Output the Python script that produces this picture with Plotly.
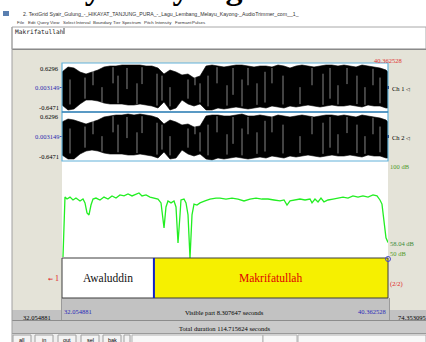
import plotly.graph_objects as go

W, H = 426, 342

# Time window shown in the editor (seconds)
t_start = 32.054881
t_end = 40.362528

# Waveform envelope, sampled along the visible window
wave_t = [32.055, 32.208, 32.361, 32.514, 32.667, 32.819, 32.972, 33.125, 33.278, 33.431,
          33.584, 33.737, 33.890, 34.043, 34.196, 34.348, 34.501, 34.654, 34.807, 34.960,
          35.113, 35.266, 35.419, 35.572, 35.725, 35.878, 36.030, 36.183, 36.336, 36.489,
          36.642, 36.795, 36.948, 37.101, 37.254, 37.406, 37.559, 37.712, 37.865, 38.018,
          38.171, 38.324, 38.477, 38.630, 38.783, 38.935, 39.088, 39.241, 39.394, 39.547,
          39.700, 39.853, 40.006, 40.159, 40.312, 40.362]
ch1_top = [0.395, 0.525, 0.499, 0.395, 0.343, 0.395, 0.447, 0.525, 0.551, 0.551,
           0.577, 0.577, 0.577, 0.577, 0.551, 0.551, 0.499, 0.343, 0.447, 0.395,
           0.317, 0.343, 0.239, 0.291, 0.551, 0.577, 0.551, 0.525, 0.551, 0.577,
           0.577, 0.551, 0.525, 0.551, 0.551, 0.525, 0.577, 0.551, 0.499, 0.551,
           0.577, 0.551, 0.525, 0.551, 0.577, 0.577, 0.551, 0.577, 0.551, 0.525,
           0.577, 0.551, 0.525, 0.499, 0.447, 0.395]
ch1_bottom = [-0.465, -0.595, -0.569, -0.439, -0.335, -0.335, -0.361, -0.413, -0.439, -0.439,
              -0.439, -0.465, -0.465, -0.439, -0.465, -0.491, -0.543, -0.387, -0.595, -0.543,
              -0.335, -0.439, -0.491, -0.439, -0.595, -0.595, -0.543, -0.569, -0.543, -0.517,
              -0.543, -0.569, -0.543, -0.517, -0.543, -0.491, -0.517, -0.543, -0.491, -0.517,
              -0.491, -0.465, -0.491, -0.517, -0.491, -0.465, -0.491, -0.491, -0.465, -0.491,
              -0.517, -0.465, -0.491, -0.491, -0.543, -0.543]
ch2_top = [0.370, 0.447, 0.421, 0.369, 0.317, 0.369, 0.421, 0.499, 0.525, 0.551,
           0.551, 0.577, 0.551, 0.577, 0.551, 0.525, 0.473, 0.317, 0.421, 0.369,
           0.291, 0.317, 0.239, 0.265, 0.525, 0.551, 0.551, 0.525, 0.525, 0.551,
           0.577, 0.525, 0.525, 0.551, 0.525, 0.499, 0.551, 0.525, 0.499, 0.525,
           0.551, 0.525, 0.499, 0.525, 0.551, 0.551, 0.525, 0.551, 0.525, 0.499,
           0.551, 0.525, 0.499, 0.473, 0.421, 0.369]
ch2_bottom = [-0.491, -0.595, -0.595, -0.465, -0.387, -0.361, -0.387, -0.439, -0.465, -0.465,
              -0.465, -0.491, -0.491, -0.465, -0.491, -0.517, -0.569, -0.413, -0.595, -0.569,
              -0.361, -0.465, -0.517, -0.465, -0.595, -0.621, -0.569, -0.595, -0.569, -0.543,
              -0.569, -0.595, -0.569, -0.543, -0.569, -0.517, -0.543, -0.569, -0.517, -0.543,
              -0.517, -0.491, -0.517, -0.543, -0.517, -0.491, -0.517, -0.517, -0.491, -0.517,
              -0.543, -0.491, -0.517, -0.517, -0.569, -0.569]

# Light streaks inside the dense waveform
streak_t = [32.259, 32.641, 32.845, 33.074, 33.355, 33.482, 33.711, 33.966, 34.094, 34.476,
            34.603, 34.807, 35.266, 35.444, 35.572, 35.776, 36.005, 36.260, 36.413, 36.642,
            36.795, 37.024, 37.228, 37.406, 37.687, 38.120, 38.426, 38.706, 38.885, 39.088,
            39.318, 39.572, 39.776, 39.980, 40.159]
streak_lo = [-0.45, -0.30, 0.05, -0.40, 0.10, -0.42, -0.05, -0.44, 0.08, -0.48,
             -0.35, -0.50, -0.30, 0.05, -0.40, -0.50, 0.10, -0.48, -0.20, -0.50,
             0.05, -0.46, -0.40, 0.10, -0.45, -0.44, 0.05, -0.46, -0.30, -0.45,
             0.08, -0.44, -0.46, 0.05, -0.42]
streak_hi = [0.20, 0.25, 0.50, 0.00, 0.52, 0.30, 0.50, 0.10, 0.52, 0.35,
             0.30, 0.00, 0.20, 0.45, 0.10, 0.30, 0.52, 0.05, 0.50, 0.20,
             0.50, 0.10, 0.40, 0.50, 0.30, 0.00, 0.50, 0.35, 0.50, 0.05,
             0.50, 0.30, 0.00, 0.48, 0.25]

# Intensity contour (dB)
int_t = [32.080, 32.131, 32.182, 32.259, 32.335, 32.411, 32.514, 32.590, 32.641, 32.692,
         32.743, 32.794, 32.845, 32.921, 33.023, 33.125, 33.227, 33.329, 33.431, 33.533,
         33.635, 33.737, 33.839, 33.941, 34.017, 34.094, 34.196, 34.298, 34.400, 34.501,
         34.578, 34.629, 34.655, 34.705, 34.756, 34.833, 34.909, 34.960, 35.011, 35.062,
         35.087, 35.164, 35.215, 35.266, 35.317, 35.368, 35.419, 35.495, 35.572, 35.699,
         35.826, 35.979, 36.081, 36.234, 36.387, 36.540, 36.693, 36.846, 36.999, 37.152,
         37.305, 37.458, 37.611, 37.713, 37.789, 37.866, 37.993, 38.120, 38.248, 38.375,
         38.426, 38.502, 38.579, 38.655, 38.731, 38.833, 38.961, 39.088, 39.216, 39.343,
         39.470, 39.598, 39.725, 39.853, 39.980, 40.082, 40.158, 40.209, 40.260, 40.311,
         40.362]
int_db = [50.5, 81.4, 80.4, 81.4, 79.9, 80.9, 79.4, 80.4, 78.4, 73.2,
          72.2, 77.3, 80.4, 80.9, 79.9, 81.4, 80.4, 82.0, 80.9, 82.5,
          82.0, 83.0, 82.0, 83.0, 83.5, 82.0, 82.5, 81.4, 80.9, 80.4,
          78.4, 69.6, 65.5, 76.3, 79.4, 78.4, 79.4, 76.3, 57.7, 72.2,
          79.9, 80.4, 78.4, 72.2, 50.0, 72.2, 77.8, 77.3, 78.4, 79.4,
          80.4, 80.9, 80.9, 80.4, 80.9, 80.4, 79.4, 80.4, 80.9, 80.4,
          80.4, 79.9, 79.4, 79.9, 77.3, 79.4, 79.9, 80.4, 79.9, 80.4,
          78.4, 80.4, 78.9, 80.9, 78.9, 79.9, 80.4, 80.9, 81.4, 80.9,
          82.0, 81.4, 82.0, 81.4, 82.5, 82.0, 79.9, 77.8, 69.6, 60.4,
          58.04]

# Tier intervals
tier_labels = ["Awaluddin", "Makrifatullah"]
tier_bounds = [32.054881, 34.397, 40.362528]

amp_max, amp_mid, amp_min = 0.6296, 0.003149, -0.6471
db_min, db_max = 50, 100

menu_items = ["File", "Edit", "Query", "View", "Select", "Interval", "Boundary", "Tier",
              "Spectrum", "Pitch", "Intensity", "Formant", "Pulses"]
menu_x = [16, 27, 36, 49, 62, 75, 92, 112, 121, 143, 154, 174, 191]
buttons = ["all", "in", "out", "sel", "bak"]
button_x = [13, 35, 58, 81, 103]

SERIF = "Liberation Serif"
SANS = "Liberation Sans"


def px(x):
    return x / W


def py(y):
    return 1 - y / H


shapes = []
annotations = []


def rect(x0, y0, x1, y1, fill=None, line=None, lw=1, layer="below"):
    shapes.append(dict(type="rect", xref="paper", yref="paper",
                       x0=px(x0), x1=px(x1), y0=py(y1), y1=py(y0),
                       fillcolor=fill if fill else "rgba(0,0,0,0)",
                       line=dict(color=line if line else "rgba(0,0,0,0)", width=lw if line else 0),
                       layer=layer))


def hline(x0, x1, y, color, lw=1, layer="below"):
    shapes.append(dict(type="line", xref="paper", yref="paper",
                       x0=px(x0), x1=px(x1), y0=py(y), y1=py(y),
                       line=dict(color=color, width=lw), layer=layer))


def vline(x, y0, y1, color, lw=1, layer="below"):
    shapes.append(dict(type="line", xref="paper", yref="paper",
                       x0=px(x), x1=px(x), y0=py(y0), y1=py(y1),
                       line=dict(color=color, width=lw), layer=layer))


def label(x, y, text, size=7, color="black", anchor="left", family=SERIF, yanchor="middle"):
    annotations.append(dict(xref="paper", yref="paper", x=px(x), y=py(y), text=text,
                            showarrow=False, xanchor=anchor, yanchor=yanchor,
                            font=dict(family=family, size=size, color=color),
                            borderpad=0))


# Window chrome
rect(12, 27, 426, 49, fill="white", line="#a8a8a8")
hline(12, 426, 49.5, "#8a8a8a", 1.5)
rect(12, 50, 426, 310, fill="#e4e3d8")
rect(62, 63, 388, 298, fill="white")
rect(62, 298, 389, 320, fill="#c2c2c2")
rect(12, 310, 426, 320, fill="#c2c2c2")
vline(61.5, 298, 320, "#9a9a9a")
vline(389.5, 298, 320, "#9a9a9a")
hline(12, 426, 320.5, "#8c8c8c", 1)
rect(12, 321, 426, 333, fill="#cacaca")
hline(12, 426, 333.5, "#9a9a9a", 1)
rect(12, 334, 426, 342, fill="#efefef")
vline(12, 27, 342, "#a0a0a0")
for bx in button_x:
    rect(bx, 335, bx + 18, 345, fill="#f4f4f4", line="#a0a0a0")
rect(124, 335, 130, 345, fill="#f4f4f4", line="#a0a0a0")
rect(132, 335, 263, 345, fill="#f8f8f8", line="#b0b0b0")
rect(263, 335, 297, 345, fill="#f8f8f8", line="#b0b0b0")
rect(298, 335, 426, 345, fill="#f8f8f8", line="#b0b0b0")

# Tier background and boundary
rect(62, 258, 154, 298, fill="white", layer="above")
rect(154, 258, 388, 298, fill="#f6f000", layer="above")
hline(62, 388, 258, "#3c3c3c", 1, layer="above")
hline(62, 388, 298, "#3c3c3c", 1.2, layer="above")
vline(62, 258, 298, "#3c3c3c", 1, layer="above")
vline(388, 258, 298, "#3c3c3c", 1, layer="above")
shapes.append(dict(type="line", xref="x", yref="paper", x0=tier_bounds[1], x1=tier_bounds[1],
                   y0=py(298), y1=py(258), line=dict(color="#1020c8", width=2), layer="above"))
shapes.append(dict(type="circle", xref="paper", yref="paper", x0=px(385.5), x1=px(390.5),
                   y0=py(261.5), y1=py(256.5), line=dict(color="#4a4ac8", width=1),
                   fillcolor="rgba(0,0,0,0)", layer="above"))

# Channel frames
rect(62, 63, 388, 112, line="#62b2da", lw=1.2, layer="above")
rect(62, 112, 388, 161, line="#62b2da", lw=1.2, layer="above")
hline(62, 388, 112, "#2a6fa6", 1.2, layer="above")
vline(388, 86, 89, "#1f4f86", 2, layer="above")
vline(388, 135, 138, "#1f4f86", 2, layer="above")

fig = go.Figure()

# Waveforms: filled envelope plus light streaks
for yax, top, bot in (("y", ch1_top, ch1_bottom), ("y2", ch2_top, ch2_bottom)):
    fig.add_trace(go.Scatter(x=wave_t + wave_t[::-1], y=top + bot[::-1], yaxis=yax,
                             fill="toself", fillcolor="black", mode="lines",
                             line=dict(color="black", width=0.6), hoverinfo="skip"))
    sx, sy = [], []
    for t, lo, hi in zip(streak_t, streak_lo, streak_hi):
        sx += [t, t, None]
        sy += [lo, hi, None]
    fig.add_trace(go.Scatter(x=sx, y=sy, yaxis=yax, mode="lines",
                             line=dict(color="rgba(255,255,255,0.75)", width=0.7),
                             hoverinfo="skip"))

# Intensity contour
fig.add_trace(go.Scatter(x=int_t, y=int_db, yaxis="y3", mode="lines",
                         line=dict(color="#22ee22", width=1.3), hoverinfo="skip"))

# Heading and window texts
label(10, 7, "Melayu Kayong", size=34, family=SERIF, yanchor="bottom",
      color="black")
annotations[-1]["font"]["weight"] = "bold"
rect(3, 11, 9, 16, fill="#5a7fb0")
label(22, 14, "2. TextGrid Syair_Gulung_-_HIKAYAT_TANJUNG_PURA_-_Lagu_Lembang_Melayu_Kayong-_AudioTrimmer_com__1_",
      size=5.2, color="#333333", family=SANS)
for name, mx in zip(menu_items, menu_x):
    label(mx, 22.5, name, size=4.4, color="#333333", family=SANS)
label(14, 31, "Makrifatullah", size=6.2, color="#222222", family="DejaVu Sans Mono")
vline(64, 28, 34, "#222222", 0.8)

# Waveform scale labels
for off in (0, 49):
    label(60, 68 + off, "0.6296", size=6.5, anchor="right")
    label(60, 87.5 + off, "0.003149", size=6.5, color="#2a2ab0", anchor="right")
    hline(60, 62, 87.5 + off, "#2a2ab0", 0.8)
    label(60, 107 + off, "-0.6471", size=6.5, anchor="right")
label(391, 88, "Ch 1 <span style='font-size:5px'>&#9665;</span>", size=6.5)
label(391, 137, "Ch 2 <span style='font-size:5px'>&#9665;</span>", size=6.5)
label(388, 60, "40.362528", size=6.5, color="#e03030", anchor="center")

# Intensity labels
label(389, 166, "100 dB", size=6.5, color="#4f9a2a")
label(389, 243, "58.04 dB", size=6.5, color="#3a8a3a")
label(389, 253, "50 dB", size=6.5, color="#4f9a2a")

# Tier labels
t_mid = [(tier_bounds[i] + tier_bounds[i + 1]) / 2 for i in range(len(tier_labels))]
tier_colors = ["#111111", "#e00000"]
for t, txt, c in zip(t_mid, tier_labels, tier_colors):
    annotations.append(dict(xref="x", yref="paper", x=t, y=py(278), text=txt, showarrow=False,
                            xanchor="center", yanchor="middle",
                            font=dict(family=SERIF, size=11.5, color=c)))
label(60, 278, "<span style='font-size:6px'>&#8668;</span> 1", size=8, color="#e02020",
      anchor="right")
label(389, 284, "(2/2)", size=6.5, color="#e02020")

# Time readouts
label(63, 311, "32.054881", size=6.5, color="#2a2ab8")
label(387, 311, "40.362528", size=6.5, color="#2a2ab8", anchor="right")
label(225, 312, "Visible part 8.307647 seconds", size=6.5, anchor="center")
label(37, 317, "32.054881", size=6.5, anchor="center")
label(397, 317, "74.353095", size=6.5)
label(225, 328.5, "Total duration 114.715624 seconds", size=6.5, anchor="center")
for name, bx in zip(buttons, button_x):
    label(bx + 9, 340, name, size=5.5, anchor="center", family=SANS)

hidden = dict(visible=False, showgrid=False, zeroline=False, fixedrange=True)
fig.update_layout(
    width=W, height=H,
    margin=dict(l=0, r=0, t=0, b=0),
    paper_bgcolor="white",
    plot_bgcolor="rgba(0,0,0,0)",
    showlegend=False,
    xaxis=dict(domain=[px(62), px(388)], range=[t_start, t_end], anchor="y3", **hidden),
    yaxis=dict(domain=[py(112), py(63)], range=[amp_min, amp_max], anchor="x", **hidden),
    yaxis2=dict(domain=[py(161), py(112)], range=[amp_min, amp_max], anchor="x", **hidden),
    yaxis3=dict(domain=[py(258), py(161)], range=[db_min, db_max], anchor="x", **hidden),
    shapes=shapes,
    annotations=annotations,
)

fig.write_html("out.html")
